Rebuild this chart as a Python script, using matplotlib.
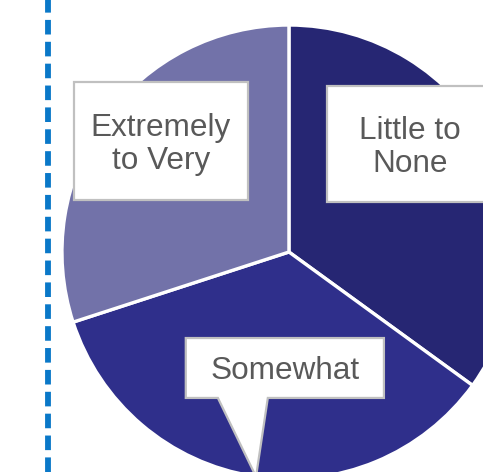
import matplotlib.pyplot as plt
from matplotlib.patches import Polygon

plt.rcParams["font.family"] = ["Liberation Sans", "DejaVu Sans"]

# data
categories = ["Little to\nNone", "Somewhat", "Extremely\nto Very"]
shares = [35, 35, 30]
colors = ["#262673", "#2f2f8b", "#7272a9"]

# label box layout (data units, pie radius = 1)
label_centers = [(0.533, 0.476), (-0.018, -0.511), (-0.564, 0.489)]
box_sizes = [(0.732, 0.507), (0.873, 0.264), (0.766, 0.516)]

TEXT = "#595959"
EDGE = "#c0c0c0"

fig = plt.figure(figsize=(4.83, 4.72), dpi=100)
ax = fig.add_axes([0, 0, 1, 1])

ax.pie(shares, colors=colors, startangle=90, counterclock=False,
       radius=1, center=(0, 0),
       wedgeprops=dict(edgecolor="white", linewidth=2.4))

# dashed vertical rule at left
ax.axvline(-1.062, color="#0a78c8", linewidth=4.2, dashes=(2.5, 1.25))

for lab, (cx, cy), (w, h) in zip(categories, label_centers, box_sizes):
    x0, x1 = cx - w / 2, cx + w / 2
    y0, y1 = cy - h / 2, cy + h / 2
    closed = True
    if lab == "Somewhat":
        pts = [(x0, y1), (x1, y1), (x1, y0), (-0.093, y0), (-0.145, -0.99),
               (-0.313, y0), (x0, y0)]
    elif lab.startswith("Little"):
        # box runs off the right edge, so no right side is drawn
        x1 = 0.87
        pts = [(x1, y1), (x0, y1), (x0, y0), (x1, y0)]
        closed = False
    else:
        pts = [(x0, y1), (x1, y1), (x1, y0), (x0, y0)]
    ax.add_patch(Polygon(pts, closed=closed, facecolor="white", edgecolor=EDGE,
                         linewidth=1.6, zorder=3))
    ax.text(cx, cy - 0.015, lab, ha="center", va="center", fontsize=22.7,
            color=TEXT, linespacing=1.12, zorder=4)

ax.set_xlim(-1.273, 0.855)
ax.set_ylim(-0.969, 1.110)
ax.set_aspect("equal")
ax.axis("off")

fig.savefig("out.png", dpi=100)
